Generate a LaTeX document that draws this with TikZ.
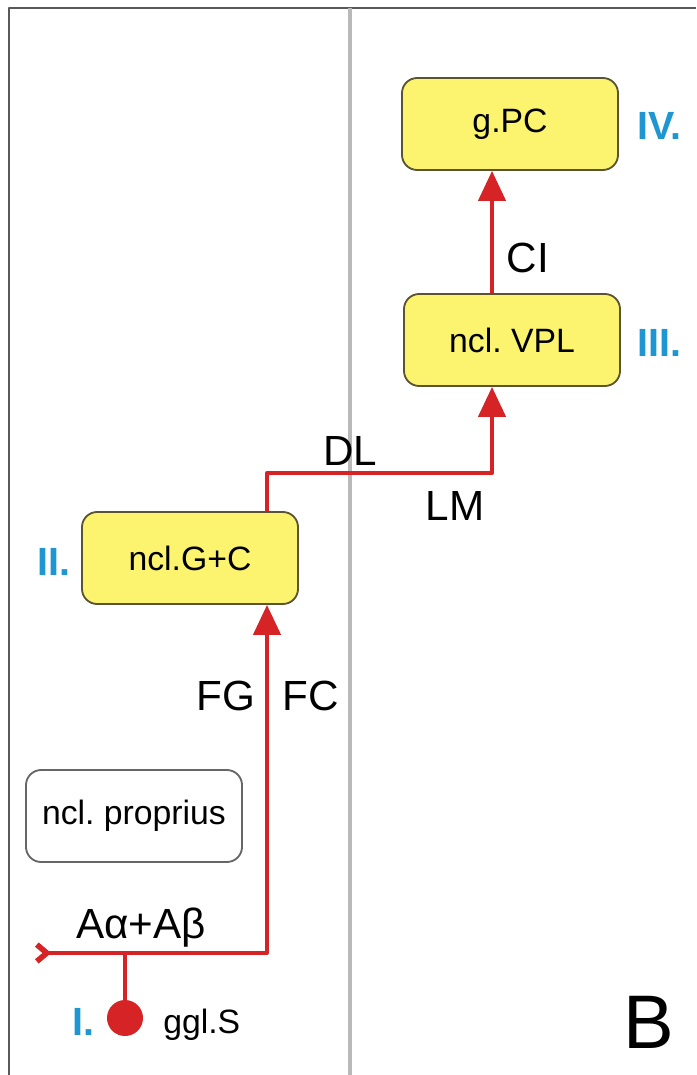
\documentclass[tikz,border=0pt]{standalone}
\usepackage{fontspec}
\setmainfont{Liberation Sans}
\usetikzlibrary{arrows.meta}
\definecolor{axred}{RGB}{214,36,38}
\definecolor{numblue}{RGB}{30,150,210}
\definecolor{nucyel}{RGB}{252,243,110}
\definecolor{nucedge}{RGB}{90,84,50}
\frenchspacing
\begin{document}
\begin{tikzpicture}[x=0.025cm, y=-0.025cm, line join=round,
		nucleus/.style={draw=nucedge, line width=1.3pt, fill=nucyel, rounded corners=0.38cm, minimum width=5.4cm, minimum height=2.3cm, font=\fontsize{24}{28}\selectfont},
		tract/.style={draw=axred, line width=2.8pt},
		lbl/.style={inner sep=0pt, anchor=base, font=\fontsize{30}{34}\selectfont},
		num/.style={inner sep=0pt, anchor=base west, text=numblue, font=\bfseries\fontsize{28}{32}\selectfont},
		>={Triangle[length=0.75cm, width=0.68cm]}]
			\useasboundingbox (0,0) rectangle (696,1075);
			\draw[gray!70!black, line width=1.5pt] (9,1075)--(9,8)--(696,8);
			\draw[gray!55, line width=3pt] (350,8)--(350,1075);
			\node[nucleus] (pc) at (510,124) {g.PC};
			\node[nucleus] (vpl) at (512,340) {ncl. VPL};
			\node[nucleus] (gc) at (190,558) {ncl.G+C};
			\node[nucleus, fill=white, draw=gray!80!black] (prop) at (134,816) {ncl. proprius};
			\node[circle, fill=axred, minimum size=0.9cm, inner sep=0pt] (soma) at (125,1018) {};
			\coordinate (entry) at (34,953);
			\coordinate (turn) at (267,953);
			\coordinate (root) at (125,953);
			\coordinate (cross) at (492,473);
			\draw[tract, {Straight Barb[reversed,length=0.25cm,width=0.42cm,line width=4pt 0]}->] (entry)--(turn)--(turn |- gc.south);
			\draw[tract] (root)--(soma);
			\draw[tract, ->] (turn |- gc.north) |- (cross)--(cross |- vpl.south);
			\draw[tract, ->] (cross |- vpl.north)--(cross |- pc.south);
			\node[lbl] (fg) at (226,710) {FG};
			\node[lbl] (fc) at (311,710) {FC};
			\node[lbl] (dl) at (350,465) {DL};
			\node[lbl] (lm) at (455,520) {LM};
			\node[lbl] (ci) at (528,273) {CI};
			\node[lbl] (aab) at (141,938) {Aα+Aβ};
			\node[lbl, anchor=base west, font=\fontsize{24}{28}\selectfont] (ggl) at (163,1033) {ggl.S};
			\node[num] (n1) at (72,1035) {I.};
			\node[num] (n2) at (37,575) {II.};
			\node[num] (n3) at (637,357) {III.};
			\node[num] (n4) at (637,140) {IV.};
			\node[lbl, anchor=base west, font=\fontsize{54}{60}\selectfont] (panel) at (623,1048) {B};
\end{tikzpicture}
\end{document}
